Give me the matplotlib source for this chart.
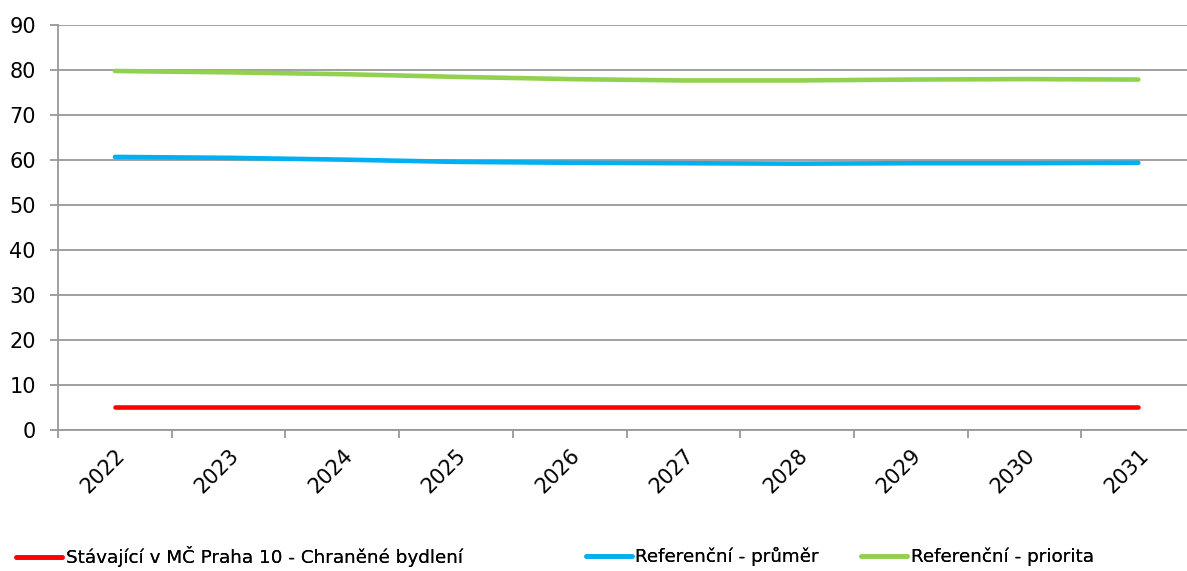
import matplotlib.pyplot as plt
import numpy as np

years = ['2022', '2023', '2024', '2025', '2026', '2027', '2028', '2029', '2030', '2031']
stavajici = [5, 5, 5, 5, 5, 5, 5, 5, 5, 5]
prumer = [60.7, 60.5, 60.1, 59.6, 59.4, 59.3, 59.2, 59.3, 59.3, 59.4]
priorita = [79.8, 79.5, 79.1, 78.5, 78.0, 77.7, 77.7, 77.9, 78.0, 77.9]

names = ['Stávající v MČ Praha 10 - Chraněné bydlení', 'Referenční - průměr', 'Referenční - priorita']
colors = ['#ff0000', '#00b0f0', '#92d050']

plt.rcParams['font.family'] = ['DejaVu Sans']

fig = plt.figure(figsize=(11.87, 5.71), dpi=100)
ax = fig.add_axes([0.0489, 0.247, 0.958, 0.709])

x = np.arange(len(years))
lines = []
for vals, c, n in zip([stavajici, prumer, priorita], colors, names):
    ln, = ax.plot(x, vals, color=c, linewidth=3.3, solid_capstyle='round', label=n)
    lines.append(ln)

ax.set_ylim(0, 90)
ax.set_yticks(range(0, 91, 10))
ax.set_xlim(-0.5, len(years) - 0.5)
ax.set_xticks(np.arange(-0.5, len(years), 1))
ax.set_xticklabels([])
ax.set_xticks(x, minor=True)
ax.set_xticklabels(years, minor=True, rotation=45, ha='right', va='top', rotation_mode='anchor')
for lbl in ax.get_xticklabels(minor=True):
    lbl.set_x(lbl.get_position()[0])

ax.grid(axis='y', color='#999999', linewidth=1.3)
ax.set_axisbelow(True)
for s in ['top', 'right']:
    ax.spines[s].set_visible(False)
for s in ['left', 'bottom']:
    ax.spines[s].set_color('#999999')
    ax.spines[s].set_linewidth(1.3)
ax.tick_params(axis='both', which='major', color='#999999', width=1.3, length=6, labelsize=15)
ax.tick_params(axis='y', pad=10)
ax.tick_params(axis='x', which='minor', length=0, labelsize=15, pad=11)

# legend entries placed one by one, like the original
for ln, xpos in zip(lines, [0.0135, 0.4935, 0.7255]):
    leg = fig.legend(handles=[ln], loc='center left', bbox_to_anchor=(xpos, 0.025), frameon=False,
                     fontsize=13.2, handlelength=2.5, handletextpad=0.2, borderpad=0, borderaxespad=0)
    fig.add_artist(leg)

fig.savefig('out.png', dpi=100)
